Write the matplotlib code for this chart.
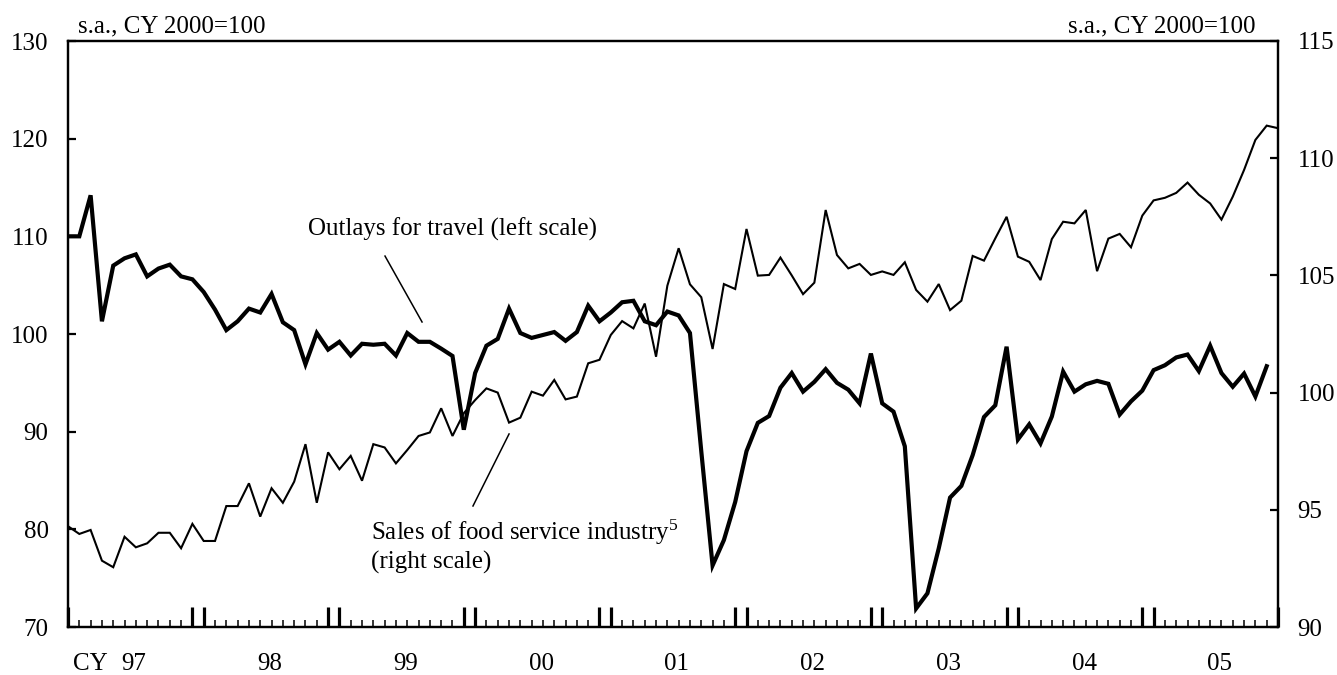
import matplotlib
matplotlib.use("Agg")
import matplotlib.pyplot as plt
import numpy as np

plt.rcParams['font.family'] = ['Liberation Serif', 'DejaVu Serif']
plt.rcParams['mathtext.fontset'] = 'custom'
plt.rcParams['mathtext.rm'] = 'Liberation Serif'
plt.rcParams['mathtext.it'] = 'Liberation Serif:italic'

# ---- data (monthly, starting CY1997 Jan) ----
travel = [110.0, 110.0, 114.2, 101.3, 107.0, 107.75, 108.15, 105.9, 106.7, 107.1,
          105.9, 105.6, 104.3, 102.5, 100.4, 101.3, 102.6, 102.2, 104.1, 101.2,
          100.4, 96.9, 100.1, 98.4, 99.2, 97.8, 99.0, 98.9, 99.0, 97.8,
          100.1, 99.2, 99.2, 98.5, 97.75, 90.2, 96.0, 98.8, 99.5, 102.6,
          100.1, 99.6, 99.9, 100.2, 99.3, 100.2, 102.9, 101.3, 102.2, 103.25,
          103.4, 101.3, 100.9, 102.3, 101.9, 100.1, 88.0, 76.3, 78.9, 82.8,
          88.0, 90.9, 91.6, 94.5, 96.0, 94.1, 95.1, 96.4, 95.0, 94.3,
          92.9, 98.0, 92.9, 92.05, 88.5, 71.9, 73.45, 78.05, 83.25, 84.45,
          87.6, 91.5, 92.7, 98.7, 89.2, 90.75, 88.8, 91.55, 96.15, 94.1,
          94.85, 95.2, 94.9, 91.75, 93.1, 94.2, 96.3, 96.8, 97.6, 97.9,
          96.2, 98.8, 96.0, 94.6, 95.95, 93.6, 96.7]

food = [94.3, 93.97, 94.14, 92.83, 92.55, 93.85, 93.4, 93.57, 94.02, 94.02,
        93.36, 94.4, 93.67, 93.67, 95.16, 95.16, 96.13, 94.71, 95.92, 95.3,
        96.2, 97.8, 95.3, 97.45, 96.73, 97.3, 96.24, 97.8, 97.66, 96.98,
        97.55, 98.15, 98.3, 99.33, 98.15, 99.12, 99.68, 100.18, 100.0, 98.72,
        98.93, 100.04, 99.87, 100.54, 99.71, 99.83, 101.25, 101.4, 102.46, 103.05,
        102.74, 103.8, 101.53, 104.56, 106.16, 104.62, 104.07, 101.86, 104.63, 104.42,
        106.98, 104.99, 105.02, 105.76, 105.0, 104.2, 104.69, 107.79, 105.87, 105.3,
        105.49, 105.02, 105.17, 105.02, 105.56, 104.38, 103.88, 104.63, 103.52, 103.92,
        105.83, 105.63, 106.58, 107.5, 105.8, 105.58, 104.8, 106.55, 107.29, 107.22,
        107.79, 105.18, 106.57, 106.77, 106.2, 107.55, 108.2, 108.31, 108.52, 108.96,
        108.44, 108.07, 107.38, 108.36, 109.5, 110.78, 111.39, 111.28]

year_labels = ['97', '98', '99', '00', '01', '02', '03', '04', '05']
left_ticks = [70, 80, 90, 100, 110, 120, 130]
right_ticks = [90, 95, 100, 105, 110, 115]

n_months = len(year_labels) * 12 - 1   # axis spans month index 0..107

FS = 18

fig = plt.figure(figsize=(13.37, 6.75), dpi=100)
ax = fig.add_axes([68/1337, 48/675, (1278-68)/1337, (627-41)/675])
ax2 = ax.twinx()

x_t = np.arange(len(travel))
x_f = np.arange(len(food))
ax.plot(x_t, travel, color='black', lw=3.0, solid_joinstyle='miter', zorder=3)
ax2.plot(x_f, food, color='black', lw=1.5, solid_joinstyle='miter', zorder=3)

ax.set_xlim(0, n_months)
ax.set_ylim(70, 130)
ax2.set_ylim(90, 115)

ax.set_yticks(left_ticks)
ax.set_yticklabels([str(v) for v in left_ticks], fontsize=FS)
ax2.set_yticks(right_ticks)
ax2.set_yticklabels([str(v) for v in right_ticks], fontsize=FS)

ax.tick_params(axis='y', direction='in', length=6, width=1.6, pad=14)
ax2.tick_params(axis='y', direction='in', length=6, width=1.6, pad=14)

# bottom ticks: monthly small ticks, tall double ticks at year boundaries
major = []
for k in range(len(year_labels) + 1):
    for m in (12 * k - 1, 12 * k):
        if 0 <= m <= n_months:
            major.append(m)
minor = [m for m in range(0, n_months + 1) if m not in major]
ax.set_xticks(major)
ax.set_xticks(minor, minor=True)
ax.tick_params(axis='x', which='major', direction='in', length=14.5, width=2.3,
               labelbottom=False)
ax.tick_params(axis='x', which='minor', direction='in', length=5, width=1.1,
               labelbottom=False)

for sp in ax.spines.values():
    sp.set_linewidth(1.6)
for sp in ax2.spines.values():
    sp.set_linewidth(1.6)

# year labels
for k, lab in enumerate(year_labels):
    ax.text(12 * k + 5.85, -0.0634, lab, transform=ax.get_xaxis_transform(),
            ha='center', va='center', fontsize=FS)
ax.text(73/1337, 1 - 664/675, 'CY', transform=fig.transFigure,
        ha='left', va='center', fontsize=FS)

# unit labels
fig.text(78/1337, 1 - 26/675, 's.a., CY 2000=100', ha='left', va='center', fontsize=FS)
fig.text(1256/1337, 1 - 26/675, 's.a., CY 2000=100', ha='right', va='center', fontsize=FS)

# annotations
ax.text(0.1983, 0.679, 'Outlays for travel (left scale)', transform=ax.transAxes,
        ha='left', va='center', fontsize=FS)
ax.plot([0.262, 0.2926], [0.633, 0.5205], transform=ax.transAxes,
        color='black', lw=1.1)
ax.text(0.2504, 0.1621, r'Sales of food service industry$^{5}$', transform=ax.transAxes,
        ha='left', va='center', fontsize=FS)
ax.text(0.2504, 0.1109, '(right scale)', transform=ax.transAxes,
        ha='left', va='center', fontsize=FS)
ax.plot([0.3645, 0.3347], [0.3294, 0.2065], transform=ax.transAxes,
        color='black', lw=1.1)

fig.savefig('out.png', dpi=100, facecolor='white')
